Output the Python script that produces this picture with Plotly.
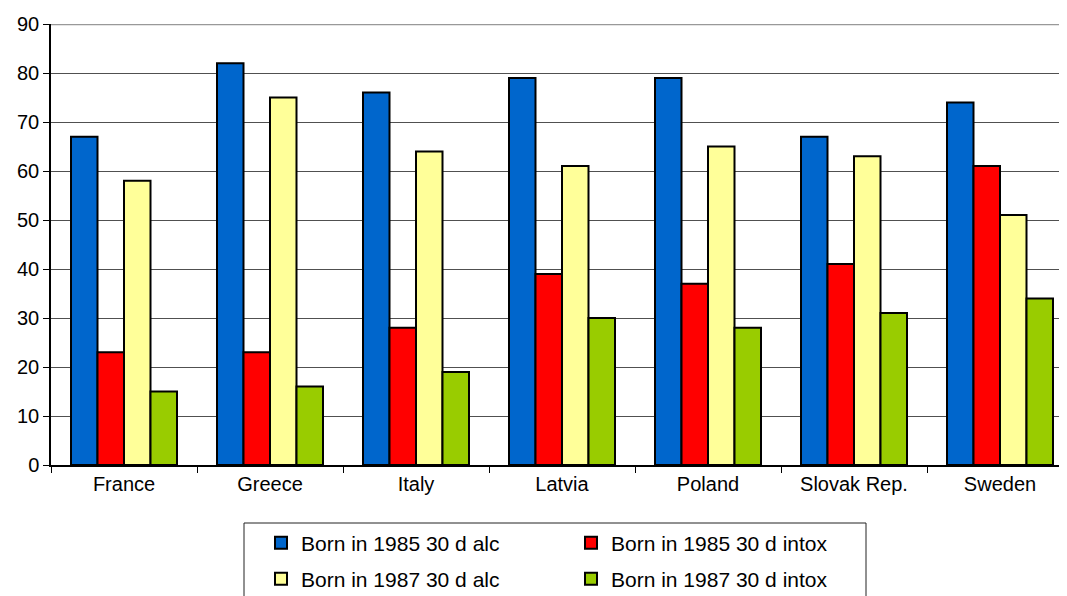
import plotly.graph_objects as go

countries = ["France", "Greece", "Italy", "Latvia", "Poland", "Slovak Rep.", "Sweden"]
alc_1985 = [67, 82, 76, 79, 79, 67, 74]
intox_1985 = [23, 23, 28, 39, 37, 41, 61]
alc_1987 = [58, 75, 64, 61, 65, 63, 51]
intox_1987 = [15, 16, 19, 30, 28, 31, 34]

series = [
    ("Born in 1985 30 d alc", alc_1985, "#0066CC", "legend"),
    ("Born in 1985 30 d intox", intox_1985, "#FF0000", "legend"),
    ("Born in 1987 30 d alc", alc_1987, "#FFFF99", "legend2"),
    ("Born in 1987 30 d intox", intox_1987, "#99CC00", "legend2"),
]

FONT = "Liberation Sans, Arial, sans-serif"

fig = go.Figure()
for name, vals, color, leg in series:
    fig.add_trace(go.Bar(
        x=countries, y=vals, name=name, legend=leg,
        marker=dict(color=color, line=dict(color="black", width=2)),
    ))

# page body adds an 8px offset; work in screen pixels and subtract it
OFF = 8
W, H = 1067 - OFF, 596 - OFF
L = 51 - OFF
T = 24 - OFF
B = H - (465 - OFF)
R = 0
pw = W - L - R
ph = H - T - B

def px_x(x):
    return (x - OFF - L) / pw

def px_y(y):
    return (H - B - (y - OFF)) / ph

legend_common = dict(
    orientation="h", xanchor="left", yanchor="middle",
    font=dict(family=FONT, size=21, color="black"),
    bgcolor="rgba(0,0,0,0)", borderwidth=0,
    entrywidth=265, entrywidthmode="pixels",
    itemclick=False, itemdoubleclick=False,
)

fig.update_layout(
    width=W, height=H,
    margin=dict(l=L, r=R, t=T, b=B, autoexpand=False),
    paper_bgcolor="white", plot_bgcolor="white",
    font=dict(family=FONT, size=20, color="black"),
    barmode="group", bargap=0.274, bargroupgap=0,
    showlegend=True,
    legend=dict(legend_common, x=px_x(261), y=px_y(543)),
    legend2=dict(legend_common, x=px_x(261), y=px_y(579)),
    xaxis=dict(
        type="category", range=[-0.5, -0.5 + pw / 146.0],
        showline=True, linecolor="black", linewidth=1.5,
        ticks="outside", tickson="boundaries", ticklen=6, tickcolor="black", tickwidth=1,
        showgrid=False, tickfont=dict(family=FONT, size=20, color="black"),
        fixedrange=True,
    ),
    yaxis=dict(
        range=[0, 90], dtick=10, tick0=0,
        showline=True, linecolor="black", linewidth=1.5,
        ticks="outside", ticklen=6, tickcolor="black", tickwidth=1,
        showgrid=True, gridcolor="#505050", gridwidth=1,
        zeroline=False,
        tickfont=dict(family=FONT, size=20, color="black"),
        fixedrange=True,
    ),
    shapes=[
        dict(type="line", xref="paper", yref="y", x0=0, x1=1, y0=90, y1=90,
             line=dict(color="#999999", width=2.5), layer="above"),
        dict(type="rect", xref="paper", yref="paper",
             x0=px_x(244), x1=px_x(866), y0=px_y(523), y1=px_y(605),
             line=dict(color="#222222", width=1), fillcolor="rgba(0,0,0,0)"),
    ],
)

fig.write_html("out.html")
